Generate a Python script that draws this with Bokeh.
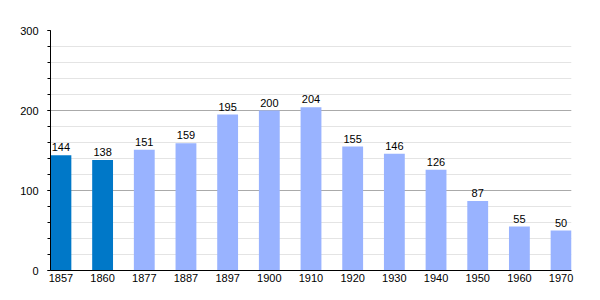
from bokeh.plotting import figure
from bokeh.models import ColumnDataSource, FixedTicker, Range1d
from bokeh.embed import file_html
from bokeh.resources import INLINE
from bokeh.core.properties import value

years = ["1857", "1860", "1877", "1887", "1897", "1900", "1910", "1920", "1930", "1940", "1950", "1960", "1970"]
population = [144, 138, 151, 159, 195, 200, 204, 155, 146, 126, 87, 55, 50]
dark_years = ["1857", "1860"]
dark_color = "#0078c8"
light_color = "#99b3ff"

xs = list(range(len(years)))
colors = [dark_color if y in dark_years else light_color for y in years]
src = ColumnDataSource(dict(x=xs, top=population, color=colors,
                            label=[str(v) for v in population]))

p = figure(width=600, height=300, output_backend="svg", toolbar_location=None,
           x_range=Range1d(-0.25, 12.25), y_range=Range1d(0, 300),
           min_border_left=50, min_border_right=29, min_border_top=30, min_border_bottom=30)
p.outline_line_color = None
p.background_fill_color = "white"
p.border_fill_color = "white"

p.vbar(x="x", top="top", width=0.5, bottom=0, color="color", source=src, line_color=None)
p.text(x="x", y="top", text="label", source=src, text_align="center", text_baseline="bottom",
       y_offset=-4, text_font=value("Liberation Sans"), text_font_size="11px", text_color="#000000")

# y axis
p.yaxis.ticker = FixedTicker(ticks=[0, 100, 200, 300], minor_ticks=list(range(0, 301, 20)))
p.yaxis.axis_line_color = "#000000"
p.yaxis.major_tick_out = 3
p.yaxis.major_tick_in = 0
p.yaxis.minor_tick_out = 3
p.yaxis.minor_tick_in = 0
p.yaxis.major_tick_line_color = "#000000"
p.yaxis.minor_tick_line_color = "#000000"
p.yaxis.major_label_standoff = 9
p.yaxis.major_label_text_font = "Liberation Sans"
p.yaxis.major_label_text_font_size = "11px"
p.yaxis.major_label_text_color = "#000000"

# x axis
p.xaxis.ticker = FixedTicker(ticks=xs)
p.xaxis.major_label_overrides = {i: y for i, y in enumerate(years)}
p.xaxis.axis_line_color = "#000000"
p.xaxis.major_tick_line_color = None
p.xaxis.minor_tick_line_color = None
p.xaxis.major_tick_out = 0
p.xaxis.major_tick_in = 0
p.xaxis.major_label_standoff = 3
p.xaxis.major_label_text_font = "Liberation Sans"
p.xaxis.major_label_text_font_size = "11px"
p.xaxis.major_label_text_color = "#000000"

# grids
p.xgrid.grid_line_color = None
p.ygrid.grid_line_color = "#aaaaaa"
p.ygrid.minor_grid_line_color = "#e4e4e4"
p.ygrid.level = "underlay"

open("out.html", "w").write(file_html(p, INLINE))
